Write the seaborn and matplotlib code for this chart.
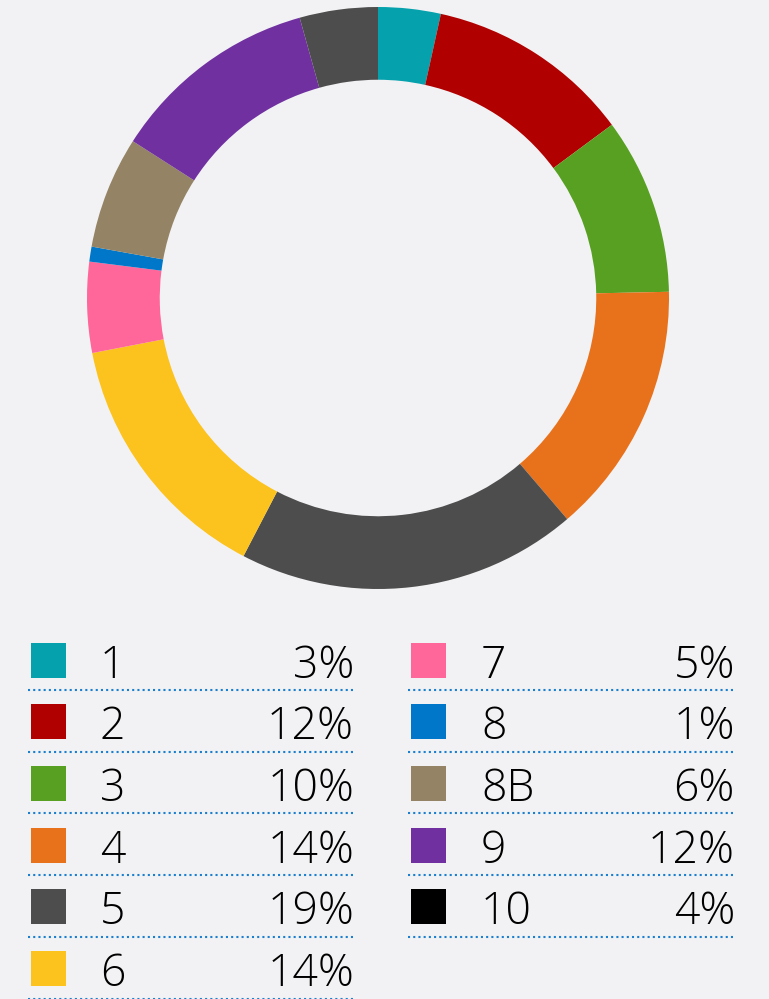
import matplotlib
matplotlib.use('Agg')
import matplotlib.pyplot as plt
import seaborn as sns
from matplotlib.patches import Rectangle

# Données
labels = ['1', '2', '3', '4', '5', '6', '7', '8', '8B', '9', '10']
shares = [3.47, 11.39, 9.81, 14.08, 18.92, 14.33, 5.03, 0.83, 6.23, 11.61, 4.34]
# pourcentages affichés dans la légende
pct_labels = [3, 12, 10, 14, 19, 14, 5, 1, 6, 12, 4]
pie_colors = ['#05a1ad', '#b00000', '#57a022', '#e8711c', '#4d4d4d', '#fcc21d',
              '#ff6699', '#0077c8', '#948364', '#7030a0', '#4d4d4d']
legend_colors = pie_colors[:-1] + ['#000000']

BG = '#f2f2f4'
DOT = '#1a7fcf'

sns.set_theme(style='white')
plt.rcParams['font.family'] = ['Open Sans', 'DejaVu Sans']

W, H = 769, 999
fig = plt.figure(figsize=(W / 100, H / 100), dpi=100)
fig.patch.set_facecolor(BG)

# Anneau
cx, cy, r = 378, 298, 291
ax = fig.add_axes([(cx - r) / W, 1 - (cy + r) / H, 2 * r / W, 2 * r / H])
ax.set_facecolor(BG)
ax.pie(shares, colors=pie_colors, startangle=90, counterclock=False,
       radius=1, wedgeprops=dict(width=0.25, linewidth=0))
ax.set_xlim(-1, 1)
ax.set_ylim(-1, 1)
ax.set_aspect('equal')
ax.axis('off')

# Légende dessinée en coordonnées pixel
lg = fig.add_axes([0, 0, 1, 1], facecolor='none')
lg.set_xlim(0, W)
lg.set_ylim(H, 0)
lg.axis('off')

cols = [dict(sq=31, lab=100, val=354, x0=28, x1=355),
        dict(sq=411, lab=481, val=735, x0=408, x1=736)]
step = 61.7
for i, (lab, val, col) in enumerate(zip(labels, pct_labels, legend_colors)):
    c = cols[0] if i < 6 else cols[1]
    row = i if i < 6 else i - 6
    yc = 660 + step * row
    lg.add_patch(Rectangle((c['sq'], yc - 17.5), 35, 35, color=col, lw=0))
    lg.text(c['lab'], yc + 17.5, lab, fontsize=32, fontweight='light',
            color='black', va='baseline', ha='left')
    lg.text(c['val'], yc + 17.5, f'{val}%', fontsize=32, fontweight='light',
            color='black', va='baseline', ha='right')
    yl = 690 + step * row
    lg.plot([c['x0'], c['x1']], [yl, yl], color=DOT, lw=1.5,
            linestyle=(0, (1, 1.5)), solid_capstyle='butt')

plt.savefig('out.png', dpi=100, facecolor=BG)
plt.close()
